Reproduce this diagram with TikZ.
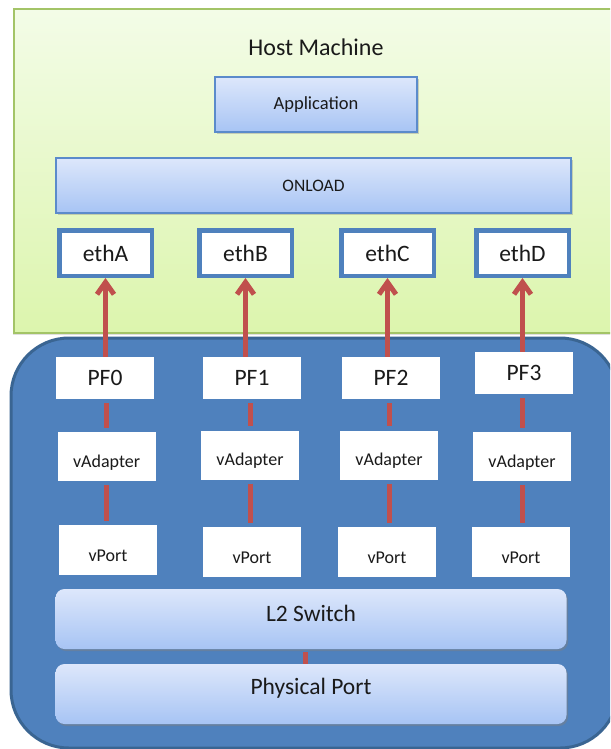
\documentclass[tikz,border=0pt]{standalone}
\usepackage{fontspec}
\setmainfont{Carlito}
\usetikzlibrary{arrows.meta,shadows,calc}
\definecolor{hosttop}{HTML}{F3FCE7}
\definecolor{hostbot}{HTML}{DCF5AD}
\definecolor{hostborder}{HTML}{A3C467}
\definecolor{apptop}{HTML}{DDE7FB}
\definecolor{appbot}{HTML}{A7C4F4}
\definecolor{appborder}{HTML}{5B8BCB}
\definecolor{ethborder}{HTML}{4F81BD}
\definecolor{nicfill}{HTML}{4F81BD}
\definecolor{nicborder}{HTML}{3A6592}
\definecolor{redline}{HTML}{C0504D}
\definecolor{txt}{HTML}{1A1A1A}
\newcommand{\fsz}[1]{\fontsize{#1}{#1}\selectfont}
\newcommand{\lowtxt}[1]{\raisebox{-6pt}[\height][\depth]{#1}}
\newcommand{\hightxt}[1]{\raisebox{6pt}[\height][\depth]{#1}}
\begin{document}
\begin{tikzpicture}[x=1pt,y=-1pt,
  appbox/.style={draw=appborder, line width=1.5pt, top color=apptop, bottom color=appbot,
    drop shadow={shadow xshift=1.5pt, shadow yshift=-2pt, opacity=0.35},
    text=txt, inner sep=0pt},
  ethbox/.style={draw=ethborder, line width=4.5pt, fill=white, minimum width=92.5pt,
    minimum height=45.5pt, inner sep=0pt, font=\fsz{23.5}, text=txt},
  whitebox/.style={fill=white, minimum width=98pt, inner sep=0pt, text=txt},
  pfbox/.style={whitebox, minimum height=42pt, font=\fsz{23.5}},
  vabox/.style={whitebox, minimum height=49pt, font=\fsz{18}},
  vpbox/.style={whitebox, minimum height=50pt, font=\fsz{18}},
  swbox/.style={rounded corners=9pt, top color=apptop, bottom color=appbot,
    minimum width=511pt, minimum height=60pt, inner sep=0pt, font=\fsz{23.5}, text=txt,
    drop shadow={shadow xshift=1.5pt, shadow yshift=-2pt, opacity=0.45}},
  arr/.style={draw=redline, line width=5pt, -{Straight Barb[length=12pt,width=17pt]}},
  link/.style={draw=redline, line width=5pt, shorten <=4pt, shorten >=4pt}
]
\useasboundingbox (0,0) rectangle (610,749);
\clip (0,0) rectangle (610,749);
\fill[white] (0,0) rectangle (610,749);

% host machine
\path[draw=hostborder, line width=2pt, top color=hosttop, bottom color=hostbot,
  drop shadow={shadow xshift=-1.5pt, shadow yshift=-1.5pt, opacity=0.25}]
  (14,9.5) rectangle (640,333);
\node[font=\fsz{24}, text=txt] (host) at (316,47) {Host Machine};
\node[appbox, minimum width=202pt, minimum height=55pt, font=\fsz{18.5}] (app) at (316,104.5) {Application};
\node[appbox, minimum width=515pt, minimum height=55pt, font=\fsz{17.5}] (onload) at (313.5,185.5) {ONLOAD};

\node[ethbox] (ethA) at (105.5,253) {ethA};
\node[ethbox] (ethB) at (245.5,253) {ethB};
\node[ethbox] (ethC) at (387.5,253) {ethC};
\node[ethbox] (ethD) at (522.5,253) {ethD};

% NIC
\path[draw=nicborder, fill=nicfill, line width=3pt, rounded corners=58pt]
  (11,338) rectangle (618,748);

\node[pfbox] (PF0) at (105,378) {PF0};
\node[pfbox] (PF1) at (252,378) {PF1};
\node[pfbox] (PF2) at (391,378) {PF2};
\node[pfbox] (PF3) at (524,373) {PF3};

\node[vabox] (VA0) at (106.6,456.5) {\lowtxt{vAdapter}};
\node[vabox] (VA1) at (250,455) {\lowtxt{vAdapter}};
\node[vabox] (VA2) at (389,455) {\lowtxt{vAdapter}};
\node[vabox] (VA3) at (522,456.5) {\lowtxt{vAdapter}};

\node[vpbox] (VP0) at (108,550) {\lowtxt{vPort}};
\node[vpbox] (VP1) at (252,552) {\lowtxt{vPort}};
\node[vpbox] (VP2) at (387,552) {\lowtxt{vPort}};
\node[vpbox] (VP3) at (521,552) {\lowtxt{vPort}};

\node[swbox] (L2) at (311,619) {\hightxt{L2 Switch}};
\node[swbox] (phys) at (311,694) {\hightxt{Physical Port}};

% arrows PF -> eth
\foreach \p/\e in {PF0/ethA,PF1/ethB,PF2/ethC,PF3/ethD}
  \draw[arr] (\p.north -| \e.south) -- (\e.south);

% PF -- vAdapter
\foreach \p/\v in {PF0/VA0,PF1/VA1,PF2/VA2,PF3/VA3}
  \draw[link] (\p.south -| \v.north) -- (\v.north);
% vAdapter -- vPort
\foreach \v/\q in {VA0/VP0,VA1/VP1,VA2/VP2,VA3/VP3}
  \draw[link] (\v.south) -- (\q.north -| \v.south);

\draw[draw=redline, line width=5pt, shorten <=3pt]
  ([xshift=-6pt]L2.south) -- ([xshift=-6pt]phys.north);
\end{tikzpicture}
\end{document}
